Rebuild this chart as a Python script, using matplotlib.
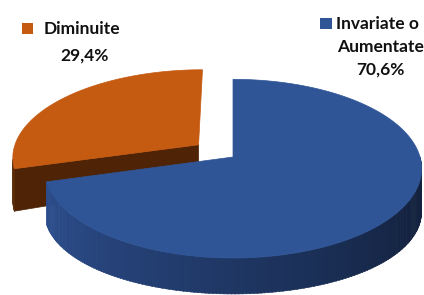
import numpy as np
import matplotlib
matplotlib.use("Agg")
import matplotlib.pyplot as plt
from matplotlib.patches import Polygon, Rectangle
from matplotlib.colors import to_rgb

# data
labels = ["Invariate o\nAumentate", "Diminuite"]
shares = [70.6, 29.4]
pct_text = ["70,6%", "29,4%"]
explode = [0.0, 0.235]
top_colors = ["#2F5597", "#C55A11"]
side_light = ["#2E5193", "#5A2B09"]
side_dark = ["#13223F", "#4E2306"]

# projection of a flat disc seen from above
phi = np.radians(28)
D = 6.77
F = 1266.0
cx, cy = 233.0, 157.0
drop_front, drop_side = 36.0, 7.0  # wall height on screen
wall_from = np.pi + np.arcsin(1 / (D * np.cos(phi)))  # first visible wall angle


def proj(x, y):
    yc = y * np.sin(phi)
    zc = D + y * np.cos(phi)
    return cx + F * x / zc, cy - F * yc / zc


def arc(t0, t1, ox, oy, bottom=False, n=200):
    t = np.linspace(t0, t1, n)
    x, y = proj(np.cos(t) + ox, np.sin(t) + oy)
    if bottom:
        y = y + drop_front + drop_side * np.cos(t) ** 2
    return np.column_stack([x, y])


def mix(c1, c2, f):
    a, b = np.array(to_rgb(c1)), np.array(to_rgb(c2))
    return tuple(a + (b - a) * f)


fig = plt.figure(figsize=(4.24, 2.95), dpi=100)
ax = fig.add_axes([0, 0, 1, 1])
ax.set_xlim(0, 424)
ax.set_ylim(295, 0)
ax.axis("off")

# slice angles: start at 12 o'clock, clockwise
start = np.pi / 2
bounds = []
a = start
for s in shares:
    a2 = a - np.radians(360 * s / 100)
    bounds.append((a2, a))
    a = a2

order = [1, 0]  # back slice first
for i in order:
    t0, t1 = bounds[i]
    mid = (t0 + t1) / 2
    ox, oy = explode[i] * np.cos(mid), explode[i] * np.sin(mid)

    # radial cut faces that look toward the viewer
    for t in (t0, t1):
        edge_n = t - np.pi / 2 if t == t0 else t + np.pi / 2
        if np.sin(edge_n) < -0.05:
            c_top = np.array(proj(ox, oy))
            c_bot = c_top + [0, drop_front]
            e_top = arc(t, t, ox, oy, n=1)[0]
            e_bot = arc(t, t, ox, oy, bottom=True, n=1)[0]
            ax.add_patch(Polygon([c_top, e_top, e_bot, c_bot], closed=True,
                                 facecolor=side_dark[i], edgecolor=side_dark[i], lw=0.5))

    # outer wall, visible front part only, shaded strip by strip
    tt0 = t0 % (2 * np.pi)
    tt1 = tt0 + (t1 - t0)
    lo, hi = max(tt0, wall_from), min(tt1, 2 * np.pi)
    if hi > lo:
        steps = np.linspace(lo, hi, int(np.degrees(hi - lo)) + 2)
        for k in range(len(steps) - 1):
            s0, s1 = steps[k], steps[k + 1] + 0.004
            f = np.clip((s0 - np.pi * 1.05) / (np.pi * 0.8), 0, 1)
            col = mix(side_light[i], side_dark[i], f)
            top = arc(s0, s1, ox, oy, n=4)
            bot = arc(s0, s1, ox, oy, bottom=True, n=4)[::-1]
            ax.add_patch(Polygon(np.vstack([top, bot]), closed=True,
                                 facecolor=col, edgecolor=col, lw=0.4))

    # top face
    pts = np.vstack([[proj(ox, oy)], arc(t0, t1, ox, oy)])
    ax.add_patch(Polygon(pts, closed=True, facecolor=top_colors[i],
                         edgecolor=top_colors[i], lw=0.5))

# labels with legend squares
font = dict(family=["Lato", "DejaVu Sans"], fontweight="bold",
            fontsize=12.5, color="#111111")
ax.add_patch(Rectangle((22, 23), 11, 11, facecolor=top_colors[1]))
ax.text(44, 34, labels[1], ha="left", va="baseline", **font)
ax.text(85, 60.5, pct_text[1], ha="center", va="baseline", **font)

ax.add_patch(Rectangle((320, 18), 12, 11, facecolor=top_colors[0]))
lines = labels[0].split("\n")
ax.text(336, 29, lines[0], ha="left", va="baseline", **font)
ax.text(380.5, 51.7, lines[1], ha="center", va="baseline", **font)
ax.text(380, 74.3, pct_text[0], ha="center", va="baseline", **font)

fig.savefig("out.png", dpi=100)
